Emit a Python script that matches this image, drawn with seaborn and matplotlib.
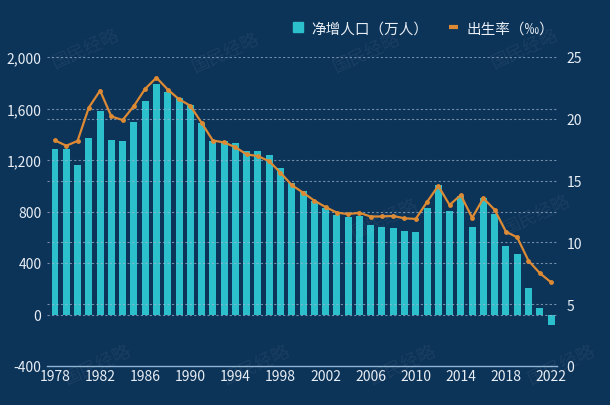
import numpy as np
import pandas as pd
import matplotlib
matplotlib.use("Agg")
import matplotlib.pyplot as plt
from matplotlib.lines import Line2D
import seaborn as sns

# data
years = list(range(1978, 2023))
net_increase = [1285, 1283, 1163, 1367, 1582, 1354, 1349, 1494, 1656, 1793,
                1726, 1678, 1629, 1490, 1348, 1346, 1333, 1271, 1268, 1237,
                1135, 1025, 957, 884, 826, 774, 761, 768, 692, 681,
                673, 648, 641, 825, 1006, 804, 920, 680, 906, 779,
                530, 467, 204, 48, -85]
birth_rate = [18.25, 17.82, 18.21, 20.91, 22.28, 20.19, 19.90, 21.04, 22.43, 23.33,
              22.37, 21.58, 21.06, 19.68, 18.24, 18.09, 17.70, 17.12, 16.98, 16.57,
              15.64, 14.64, 14.03, 13.38, 12.86, 12.41, 12.29, 12.40, 12.09, 12.10,
              12.14, 11.95, 11.90, 13.27, 14.57, 13.03, 13.83, 11.99, 13.57, 12.64,
              10.86, 10.41, 8.52, 7.52, 6.77]
left_ticks = [-400, 0, 400, 800, 1200, 1600, 2000]
right_ticks = [0, 5, 10, 15, 20, 25]
xticks = list(range(1978, 2023, 4))

df = pd.DataFrame({"year": years, "net": net_increase, "rate": birth_rate})

bg = "#0c3358"
bar_color = "#2cc0cc"
line_color = "#dc8a34"
txt = "#e8eef5"
grid_c = "#9fb6cc"

sns.set_style("dark")
plt.rcParams["font.family"] = ["Noto Sans CJK SC", "DejaVu Sans"]

fig = plt.figure(figsize=(6.1, 4.06), dpi=100, facecolor=bg)
ax = fig.add_axes([47 / 610, 39 / 406, 510 / 610, 309 / 406])
ax.set_facecolor(bg)

sns.barplot(data=df, x="year", y="net", native_scale=True, width=0.62,
            color=bar_color, saturation=1, ax=ax, zorder=2,
            edgecolor="none", linewidth=0)
ax.set_xlim(1977.29, 2022.53)
ax.set_ylim(-400, 2000)
ax.set_yticks(left_ticks)
ax.set_yticklabels([f"{v:,}" for v in left_ticks])
ax.set_xticks(xticks)
ax.set_xticklabels([str(v) for v in xticks])
ax.set_xlabel("")
ax.set_ylabel("")
for v in left_ticks[1:]:
    ax.axhline(v, color=grid_c, lw=0.8, ls=(0, (2, 2)), alpha=0.7, zorder=3)

ax2 = ax.twinx()
sns.lineplot(data=df, x="year", y="rate", ax=ax2, color=line_color, lw=1.6,
             marker="o", markersize=3.5, markeredgewidth=0, zorder=5)
ax2.set_ylim(0, 25)
ax2.set_yticks(right_ticks)
ax2.set_yticklabels([str(v) for v in right_ticks])
ax2.set_ylabel("")
for v in right_ticks[1:-1]:
    ax2.axhline(v, color=grid_c, lw=0.8, ls=(0, (2, 2)), alpha=0.7, zorder=1)

for a in (ax, ax2):
    for s in a.spines.values():
        s.set_visible(False)
    a.grid(False)
    a.tick_params(axis="y", length=0, colors=txt, labelsize=10, pad=4)
ax2.tick_params(axis="y", pad=7)
ax.spines["bottom"].set_visible(True)
ax.spines["bottom"].set_color("#8fb3d0")
ax.spines["bottom"].set_linewidth(1)
ax.tick_params(axis="x", direction="in", length=4, color="#8fb3d0",
               colors=txt, labelsize=10, pad=2)

# watermarks
for (wx, wy) in [(0.14, 0.88), (0.37, 0.87), (0.6, 0.87), (0.86, 0.88),
                 (0.63, 0.46), (0.88, 0.47), (0.16, 0.1), (0.42, 0.1),
                 (0.66, 0.1), (0.92, 0.1)]:
    fig.text(wx, wy, "国民经略", color="white", alpha=0.06, fontsize=13,
             rotation=25, ha="center", va="center")

handles = [Line2D([], [], marker="s", ls="none", color=bar_color, markersize=7),
           Line2D([], [], color=line_color, lw=3, solid_capstyle="butt")]
fig.legend(handles, ["净增人口（万人）", "出生率（‰）"], loc="center right",
           bbox_to_anchor=(0.93, 0.928), ncol=2, frameon=False,
           labelcolor=txt, fontsize=10.5, handlelength=0.6, handletextpad=0.6,
           columnspacing=1.4)

fig.savefig("out.png", dpi=100, facecolor=bg)
